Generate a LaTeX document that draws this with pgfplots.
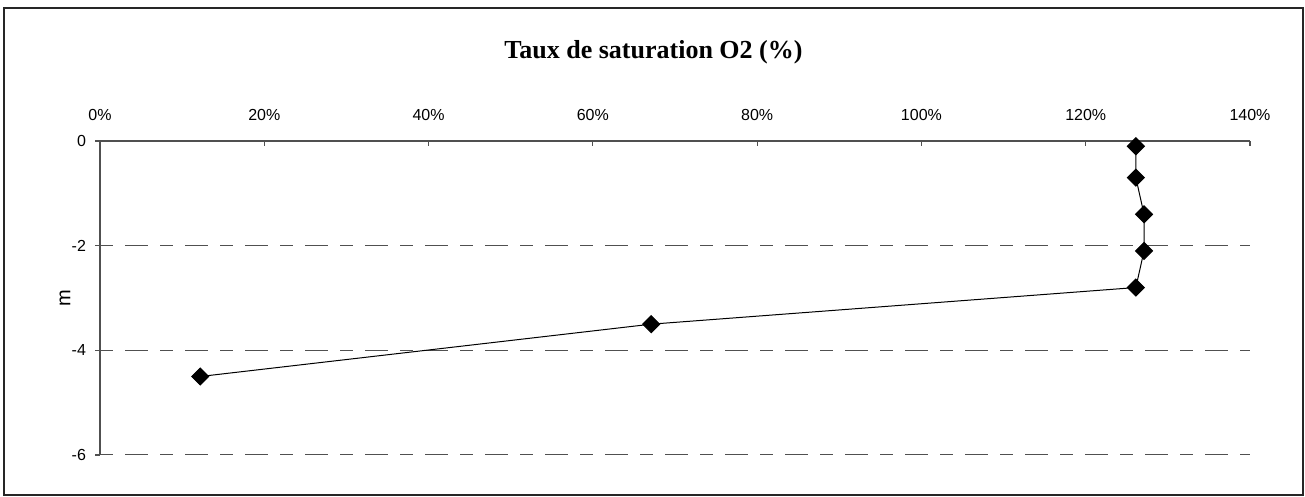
\documentclass[border=0pt]{standalone}
\usepackage{pgfplots}
\pgfplotsset{compat=1.18}
\usepackage{fontspec}
\setmainfont{Liberation Sans}
\newfontfamily\titlefont{Liberation Serif}
\definecolor{axisgray}{RGB}{80,80,80}
\begin{document}
\begin{tikzpicture}[x=1pt,y=1pt]
\useasboundingbox (0,0) rectangle (652.5,248.5);
\draw[line width=0.9pt, black!85] (2,1) rectangle (651.5,244.5);
\node[font=\titlefont\bfseries\fontsize{13}{15}\selectfont] at (326.75,222.5) {Taux de saturation O2 (\%)};
\node[rotate=90, font=\fontsize{10}{12}\selectfont] at (32.5,99.5) {m};
\begin{axis}[
  at={(50pt,21pt)}, anchor=south west,
  scale only axis, width=575pt, height=157pt,
  xmin=0, xmax=140, ymin=-6, ymax=0,
  axis x line*=top, axis y line*=left,
  axis line style={-, axisgray, line width=0.6pt},
  xtick={0,20,...,140}, ytick={0,-2,-4,-6},
  xticklabel={\pgfmathprintnumber{\tick}\%},
  /pgf/number format/assume math mode=true,
  tick label style={font=\fontsize{8}{10}\selectfont},
  xticklabel style={yshift=6.5pt},
  yticklabel style={xshift=-1pt},
  xtick align=inside, ytick align=outside,
  major tick length=2.5pt,
  tick style={axisgray, line width=0.6pt},
  ymajorgrids,
  major grid style={axisgray, line width=0.5pt, dash pattern=on 6.5pt off 6pt on 11.5pt off 6pt},
  clip=false,
]
\addplot[black, line width=0.5pt, mark=square*, mark size=3pt, mark options={rotate=45, fill=black}]
coordinates {
(126.1,-0.1)
(126.1,-0.7)
(127.1,-1.4)
(127.1,-2.1)
(126.1,-2.8)
(67.1,-3.5)
(12.2,-4.5)
};
\end{axis}
\end{tikzpicture}
\end{document}
